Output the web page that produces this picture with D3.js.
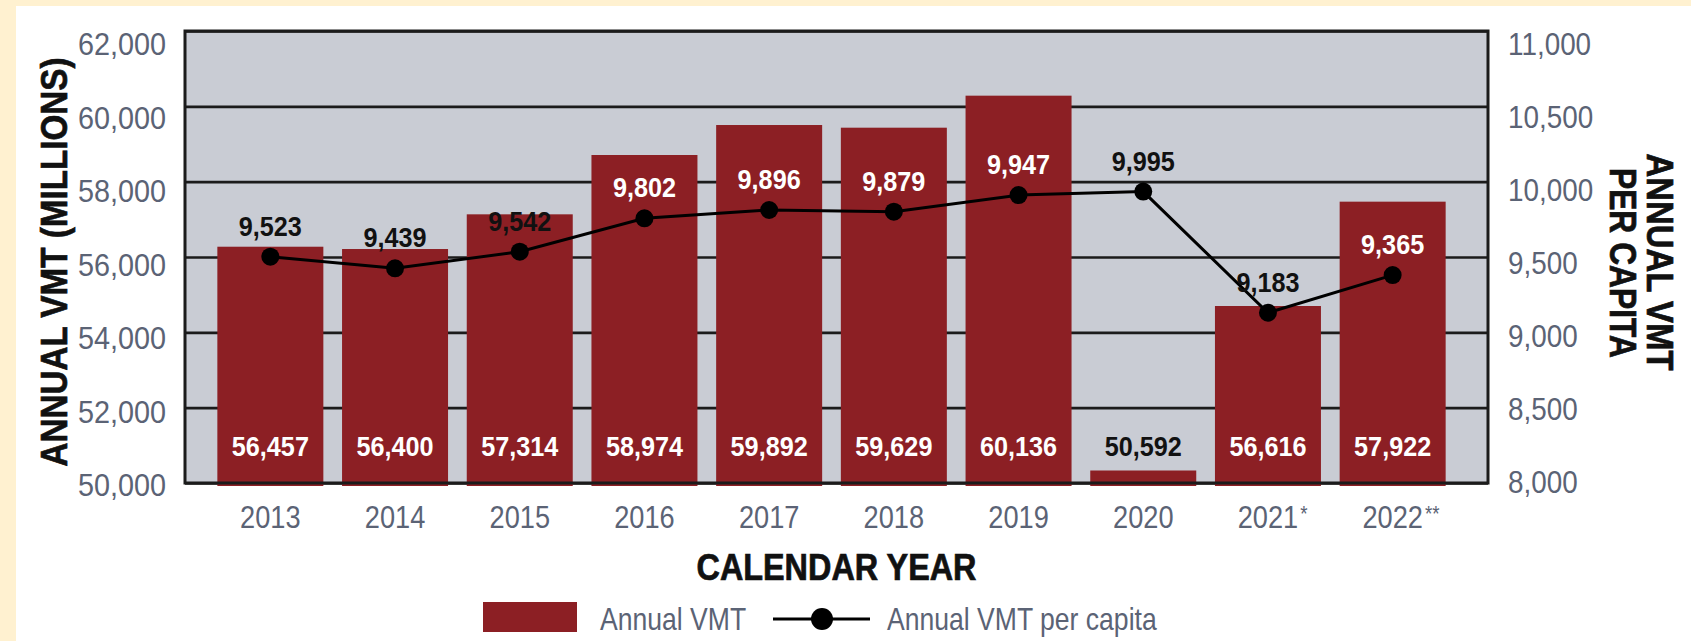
<!DOCTYPE html>
<html>
<head>
<meta charset="utf-8">
<script src="https://cdn.jsdelivr.net/npm/d3@7"></script>
<style>
  html, body { margin: 0; padding: 0; background: #fff1d0; }
  svg { display: block; }
  text { font-family: "Liberation Sans", Arial, sans-serif; }
</style>
</head>
<body>
<svg id="chart" width="1691" height="641"></svg>
<script>
// ---------- data ----------
const years = ["2013", "2014", "2015", "2016", "2017", "2018", "2019", "2020", "2021", "2022"];
const yearNotes = ["", "", "", "", "", "", "", "", "*", "**"];
// printed value labels (annual VMT, millions)
const vmtLabels = [56457, 56400, 57314, 58974, 59892, 59629, 60136, 50592, 56616, 57922];
// bar heights as drawn in the source picture
const vmtBarAsDrawn = [56273, 56212, 57133, 58708, 59504, 59433, 60283, 50332, 54699, 57469];
// printed per-capita labels
const perCapitaLabels = [9523, 9439, 9542, 9802, 9896, 9879, 9947, 9995, 9183, 9365];
// per-capita points as drawn in the source picture
const perCapitaAsDrawn = [9502, 9425, 9535, 9757, 9812, 9801, 9911, 9934, 9130, 9380];
const leftTicks = [50000, 52000, 54000, 56000, 58000, 60000, 62000];
const rightTicks = [8000, 8500, 9000, 9500, 10000, 10500, 11000];

// ---------- style ----------
const C = {
  cream: "#fff1d0", panel: "#ffffff", plotBg: "#c9ccd4", bar: "#8c1f24",
  grid: "#1b1b1b", gray: "#5b6375", ink: "#111111"
};
const FONT = '"Liberation Sans", Arial, sans-serif';

function squeeze(sel, k) {
  sel.each(function () {
    const L = this.getComputedTextLength();
    this.setAttribute("textLength", (L * k).toFixed(1));
    this.setAttribute("lengthAdjust", "spacingAndGlyphs");
  });
}
function fitTo(sel, len) {
  sel.attr("textLength", len).attr("lengthAdjust", "spacingAndGlyphs");
}

const svg = d3.select("#chart");
svg.append("rect").attr("width", 1691).attr("height", 641).attr("fill", C.cream);
svg.append("rect").attr("x", 16).attr("y", 6).attr("width", 1691 - 16).attr("height", 641 - 6).attr("fill", C.panel);

const P = { left: 185, top: 31, right: 1488, bottom: 483 };
const W = P.right - P.left, H = P.bottom - P.top;
const g = svg.append("g").attr("transform", `translate(${P.left},${P.top})`);

const x = d3.scaleBand().domain(years).range([23, 1270]).paddingInner(0.15).paddingOuter(0.075);
const yL = d3.scaleLinear().domain([50000, 62000]).range([H, 0]);
const yR = d3.scaleLinear().domain([8000, 11000]).range([H, 0]);

// plot background
g.append("rect").attr("width", W).attr("height", H).attr("fill", C.plotBg);

// gridlines
const grid = g.append("g").call(d3.axisLeft(yL).tickValues(leftTicks).tickSize(-W).tickFormat(""));
grid.select(".domain").remove();
grid.selectAll(".tick line").attr("stroke", C.grid).attr("stroke-width", 2.6);

// bars
const bars = years.map((yr, i) => ({ yr, drawn: vmtBarAsDrawn[i], label: vmtLabels[i] }));
g.selectAll("rect.bar").data(bars).join("rect")
  .attr("class", "bar")
  .attr("x", d => x(d.yr))
  .attr("width", x.bandwidth())
  .attr("y", d => yL(d.drawn))
  .attr("height", d => yL(50000) - yL(d.drawn) + 3)
  .attr("fill", C.bar);

// plot border
g.append("rect").attr("width", W).attr("height", H)
  .attr("fill", "none").attr("stroke", C.grid).attr("stroke-width", 3);

// bar value labels
const fmt = d3.format(",");
const barLabelY = yL(50000) - 27;
const bl = g.selectAll("text.barlab").data(bars).join("text")
  .attr("class", "barlab")
  .attr("x", d => x(d.yr) + x.bandwidth() / 2)
  .attr("y", barLabelY)
  .attr("text-anchor", "middle")
  .attr("font-size", 28).attr("font-weight", "bold")
  .attr("fill", d => (yL(d.drawn) < barLabelY - 20 ? "#ffffff" : C.ink))
  .text(d => fmt(d.label));
squeeze(bl, 0.9);

// per-capita line
const pts = years.map((yr, i) => ({ yr, drawn: perCapitaAsDrawn[i], label: perCapitaLabels[i], barTop: yL(vmtBarAsDrawn[i]) }));
const cx = d => x(d.yr) + x.bandwidth() / 2;
g.append("path").datum(pts)
  .attr("fill", "none").attr("stroke", "#000").attr("stroke-width", 3)
  .attr("d", d3.line().x(cx).y(d => yR(d.drawn)));
g.selectAll("circle.pt").data(pts).join("circle")
  .attr("class", "pt").attr("cx", cx).attr("cy", d => yR(d.drawn)).attr("r", 9).attr("fill", "#000");
const ll = g.selectAll("text.ptlab").data(pts).join("text")
  .attr("class", "ptlab")
  .attr("x", cx)
  .attr("y", d => yR(d.drawn) - 21)
  .attr("text-anchor", "middle")
  .attr("font-size", 28).attr("font-weight", "bold")
  .attr("fill", d => (yR(d.drawn) - 21 - 20 > d.barTop ? "#ffffff" : C.ink))
  .text(d => fmt(d.label));
squeeze(ll, 0.9);

// left axis labels
const frac = v => (v - 50000) / 12000;
const axL = g.append("g").call(d3.axisLeft(yL).tickValues(leftTicks).tickSize(0).tickPadding(19).tickFormat(fmt));
axL.select(".domain").remove();
axL.selectAll("text")
  .attr("font-family", FONT).attr("font-size", 32).attr("fill", C.gray)
  .attr("y", d => 1 + 11 * frac(d)).attr("dy", "0.36em");
squeeze(axL.selectAll("text"), 0.9);

// right axis labels
const fracR = v => (v - 8000) / 3000;
const axR = g.append("g").attr("transform", `translate(${W},0)`)
  .call(d3.axisRight(yR).tickValues(rightTicks).tickSize(0).tickPadding(20).tickFormat(fmt));
axR.select(".domain").remove();
axR.selectAll("text")
  .attr("font-family", FONT).attr("font-size", 32).attr("fill", C.gray)
  .attr("y", d => -2 + 14 * fracR(d)).attr("dy", "0.36em");
squeeze(axR.selectAll("text"), 0.87);

// x axis year labels (horizontally condensed by a transform; footnote marks as separate small texts)
const XS = 0.85;
const yearData = years.map((yr, i) => ({ yr, note: yearNotes[i] }));
const yl = g.selectAll("text.year").data(yearData).join("text")
  .attr("class", "year")
  .attr("transform", d => `translate(${x(d.yr) + x.bandwidth() / 2},${528 - P.top}) scale(${XS},1)`)
  .attr("text-anchor", "middle")
  .attr("font-size", 32).attr("fill", C.gray)
  .text(d => d.yr);
yl.each(function (d) {
  if (!d.note) return;
  const w = this.getComputedTextLength() * XS;
  g.append("text")
    .attr("transform", `translate(${x(d.yr) + x.bandwidth() / 2 + w / 2 + 2},${528 - P.top - 7}) scale(${XS},1)`)
    .attr("text-anchor", "start")
    .attr("font-size", 22).attr("fill", C.gray)
    .text(d.note);
});

// axis titles
const xt = svg.append("text").attr("x", (P.left + P.right) / 2).attr("y", 580)
  .attr("text-anchor", "middle").attr("font-size", 36).attr("font-weight", "bold")
  .attr("fill", C.ink).attr("stroke", C.ink).attr("stroke-width", 0.7)
  .text("CALENDAR YEAR");
fitTo(xt, 280);

const lt = svg.append("text").attr("transform", "translate(67,262) rotate(-90)")
  .attr("text-anchor", "middle").attr("font-size", 36).attr("font-weight", "bold")
  .attr("fill", C.ink).attr("stroke", C.ink).attr("stroke-width", 0.7)
  .text("ANNUAL VMT (MILLIONS)");
fitTo(lt, 409);

const rt1 = svg.append("text").attr("transform", "translate(1647,262) rotate(90)")
  .attr("text-anchor", "middle").attr("font-size", 36).attr("font-weight", "bold")
  .attr("fill", C.ink).attr("stroke", C.ink).attr("stroke-width", 0.7)
  .text("ANNUAL VMT");
fitTo(rt1, 217);
const rt2 = svg.append("text").attr("transform", "translate(1610,263) rotate(90)")
  .attr("text-anchor", "middle").attr("font-size", 36).attr("font-weight", "bold")
  .attr("fill", C.ink).attr("stroke", C.ink).attr("stroke-width", 0.7)
  .text("PER CAPITA");
fitTo(rt2, 190);

// legend
const lg = svg.append("g");
lg.append("rect").attr("x", 483).attr("y", 602).attr("width", 94).attr("height", 30).attr("fill", C.bar);
const lt1 = lg.append("text").attr("x", 600).attr("y", 630).attr("font-size", 32).attr("fill", C.gray).text("Annual VMT");
squeeze(lt1, 0.83);
lg.append("line").attr("x1", 773).attr("x2", 870).attr("y1", 619).attr("y2", 619).attr("stroke", "#000").attr("stroke-width", 3);
lg.append("circle").attr("cx", 822).attr("cy", 619).attr("r", 11).attr("fill", "#000");
const lt2 = lg.append("text").attr("x", 887).attr("y", 630).attr("font-size", 32).attr("fill", C.gray).text("Annual VMT per capita");
squeeze(lt2, 0.83);
</script>
</body>
</html>
